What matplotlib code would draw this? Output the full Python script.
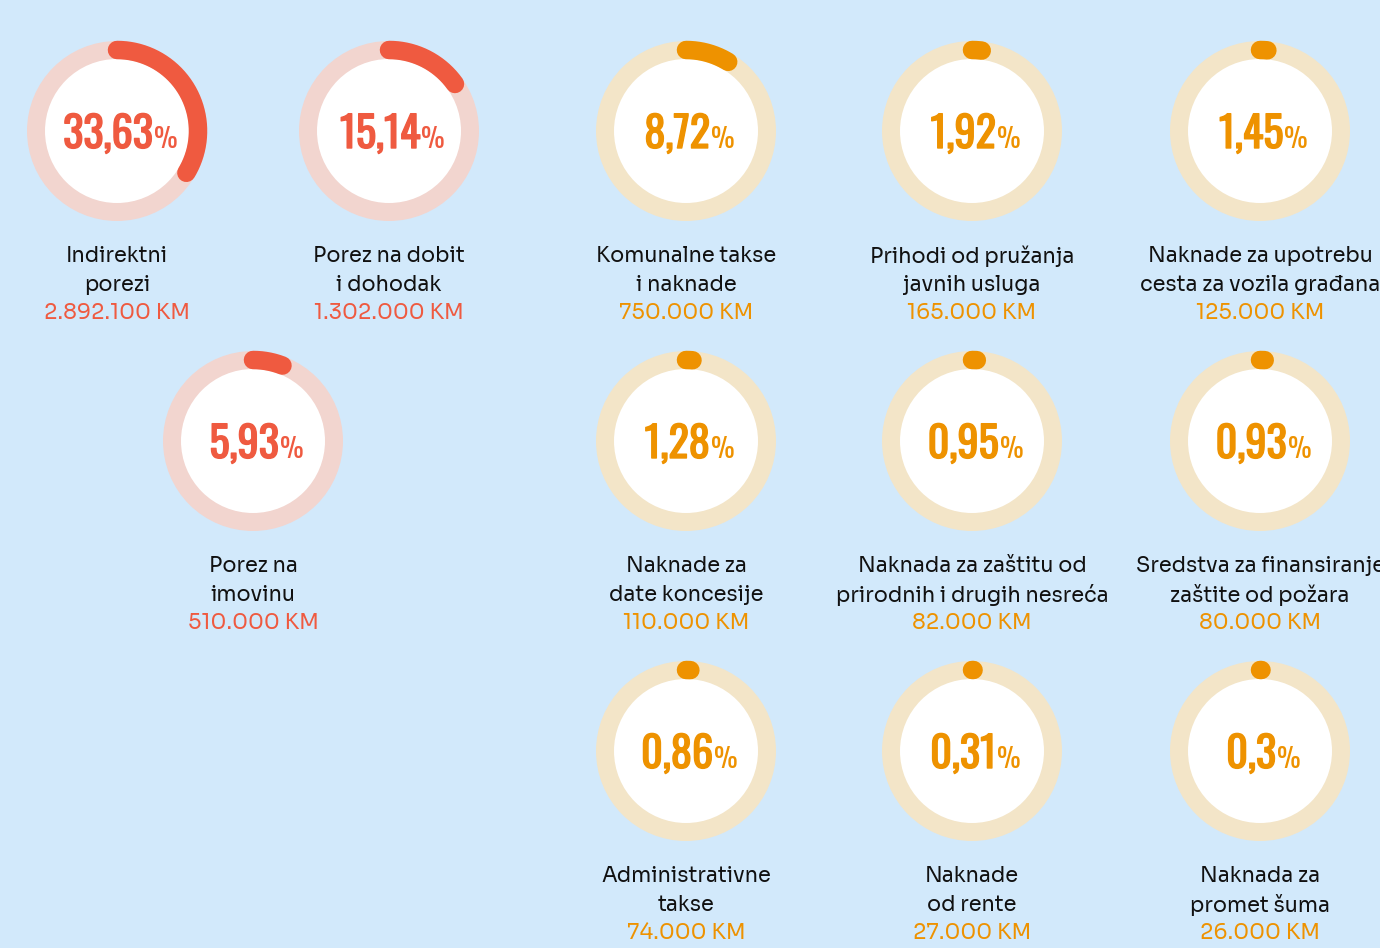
import numpy as np
import matplotlib.pyplot as plt
import matplotlib.patheffects as pe

# data
labels_top = ["Indirektni", "Porez na dobit", "Komunalne takse", "Prihodi od pružanja",
              "Naknade za upotrebu", "Porez na", "Naknade za", "Naknada za zaštitu od",
              "Sredstva za finansiranje", "Administrativne", "Naknade", "Naknada za"]
labels_bottom = ["porezi", "i dohodak", "i naknade", "javnih usluga",
                 "cesta za vozila građana", "imovinu", "date koncesije",
                 "prirodnih i drugih nesreća", "zaštite od požara", "takse",
                 "od rente", "promet šuma"]
percents = [33.63, 15.14, 8.72, 1.92, 1.45, 5.93, 1.28, 0.95, 0.93, 0.86, 0.31, 0.3]
amounts = [2892100, 1302000, 750000, 165000, 125000, 510000, 110000,
           82000, 80000, 74000, 27000, 26000]
groups = ["porez", "porez", "naknada", "naknada", "naknada", "porez", "naknada",
          "naknada", "naknada", "naknada", "naknada", "naknada"]
grid_row = [0, 0, 0, 0, 0, 1, 1, 1, 1, 2, 2, 2]
grid_col = [0, 1, 2, 3, 4, 0.5, 2, 3, 4, 2, 3, 4]

col_x = [117, 389, 686, 972, 1260]
row_y = [131, 441, 751]

BG = "#d2e9fb"
palette = {
    "porez": {"arc": "#ef5a40", "track": "#f2d5cf"},
    "naknada": {"arc": "#ee9200", "track": "#f3e5c8"},
}

R_OUT, R_IN = 90, 72
R_MID = (R_OUT + R_IN) / 2
PX = 0.72  # points per pixel at dpi 100

fig = plt.figure(figsize=(13.8, 9.48), dpi=100, facecolor=BG)
ax = fig.add_axes([0, 0, 1, 1])
ax.set_xlim(0, 1380)
ax.set_ylim(948, 0)
ax.set_aspect("equal")
ax.axis("off")
renderer = fig.canvas.get_renderer()

num_font = dict(family=["Oswald", "DejaVu Sans"], weight="bold")
pct_font = dict(family=["Oswald", "DejaVu Sans"], weight="light")
txt_font = dict(family=["Sora", "Manrope", "Inter", "DejaVu Sans"])


def fmt_amount(v):
    return f"{v:,}".replace(",", ".") + " KM"


for i, p in enumerate(percents):
    c = palette[groups[i]]
    cx = np.interp(grid_col[i], range(len(col_x)), col_x)
    cy = row_y[grid_row[i]]

    ax.add_patch(plt.Circle((cx, cy), R_OUT, color=c["track"], lw=0))
    ax.add_patch(plt.Circle((cx, cy), R_IN, color="white", lw=0))

    # arc clockwise from 12 o'clock
    ang = np.deg2rad(90 - np.linspace(0, 360 * p / 100, 200))
    ax.plot(cx + R_MID * np.cos(ang), cy - R_MID * np.sin(ang),
            color=c["arc"], lw=18.5 * PX, solid_capstyle="round")

    # percent label, digits thickened a little (no bold Oswald installed)
    num = f"{p:g}".replace(".", ",")
    t1 = ax.text(0, cy + 17, num, fontsize=30.5, color=c["arc"], ha="left",
                 va="baseline", **num_font,
                 path_effects=[pe.withStroke(linewidth=1.0, foreground=c["arc"])])
    t2 = ax.text(0, cy + 17, "%", fontsize=19, color=c["arc"], ha="left",
                 va="baseline", **pct_font)
    w1 = t1.get_window_extent(renderer).width
    w2 = t2.get_window_extent(renderer).width
    left = cx - (w1 + w2) / 2 + 3
    t1.set_x(left)
    t2.set_x(left + w1 + 1)

    ax.text(cx, cy + 125, labels_top[i], fontsize=15, color="#111111",
            ha="center", va="center", **txt_font)
    ax.text(cx, cy + 154, labels_bottom[i], fontsize=15, color="#111111",
            ha="center", va="center", **txt_font)
    ax.text(cx, cy + 182, fmt_amount(amounts[i]), fontsize=15.5, color=c["arc"],
            ha="center", va="center", **txt_font)

fig.savefig("out.png", dpi=100, facecolor=BG)
